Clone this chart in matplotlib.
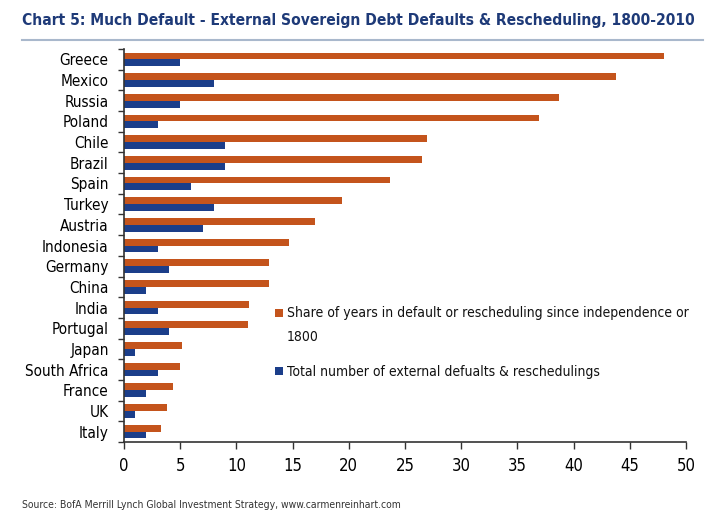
import matplotlib
matplotlib.use("Agg")
import matplotlib.pyplot as plt
import numpy as np
from matplotlib.patches import Rectangle

countries = ["Greece", "Mexico", "Russia", "Poland", "Chile", "Brazil", "Spain", "Turkey",
             "Austria", "Indonesia", "Germany", "China", "India", "Portugal", "Japan",
             "South Africa", "France", "UK", "Italy"]
share_years = [48.0, 43.8, 38.7, 36.9, 27.0, 26.5, 23.7, 19.4, 17.0, 14.7, 12.9, 12.9,
               11.1, 11.0, 5.2, 5.0, 4.35, 3.8, 3.3]
num_defaults = [5, 8, 5, 3, 9, 9, 6, 8, 7, 3, 4, 2, 3, 4, 1, 3, 2, 1, 2]
xticks = [0, 5, 10, 15, 20, 25, 30, 35, 40, 45, 50]
legend_labels = ["Share of years in default or rescheduling since independence or", "1800",
                 "Total number of external defualts & reschedulings"]

ORANGE = "#C4541C"
BLUE = "#1B3E8A"
NAVY = "#1E3A78"

plt.rcParams['font.family'] = ['DejaVu Sans']
plt.rcParams['font.stretch'] = 'condensed'

W, H = 717, 517
fig = plt.figure(figsize=(W/100, H/100), dpi=100)
ax = fig.add_axes([124/W, 1-442/H, (686-124)/W, 393/H])

y = np.arange(len(countries))
h = 0.33
ax.barh(y - h/2, share_years, height=h, color=ORANGE, zorder=2)
ax.barh(y + h/2, num_defaults, height=h, color=BLUE, zorder=2)

ax.set_ylim(len(countries) - 0.5, -0.5)
ax.set_xlim(0, 50)
ax.set_xticks(xticks)
ax.set_xticklabels([str(t) for t in xticks], fontsize=12)
ax.set_yticks(y)
ax.set_yticklabels(countries, fontsize=11)
ax.tick_params(axis='y', length=0, pad=11)
ax.set_yticks(np.arange(len(countries) + 1) - 0.5, minor=True)
ax.tick_params(axis='y', which='minor', length=4, width=1, color="#333333")
ax.tick_params(axis='x', length=5, width=1, color="#333333", pad=6)
for s in ['top', 'right']:
    ax.spines[s].set_visible(False)
for s in ['left', 'bottom']:
    ax.spines[s].set_color("#333333")
    ax.spines[s].set_linewidth(1.2)

# legend (drawn manually to mimic original layout)
def px(x, yy):
    return x / W, 1 - yy / H
for (sq_y, col) in [(309, ORANGE), (367, BLUE)]:
    x0, y0 = px(275, sq_y + 8)
    fig.add_artist(Rectangle((x0, y0), 8/W, 8/H, transform=fig.transFigure,
                             facecolor=col, edgecolor='none'))
for lab, ty in zip(legend_labels, [313, 337, 372]):
    tx, tyf = px(287, ty)
    fig.text(tx, tyf, lab, fontsize=10, color="#111111", va='center', ha='left')

tx, tyf = px(22, 20)
fig.text(tx, tyf, "Chart 5: Much Default - External Sovereign Debt Defaults & Rescheduling, 1800-2010",
         fontsize=11.2, fontweight='bold', color=NAVY, va='center', ha='left')
fig.add_artist(plt.Line2D([22/W, 703/W], [1-40/H, 1-40/H], color="#A9B8CC", lw=1.5))
tx, tyf = px(22, 505)
fig.text(tx, tyf, "Source: BofA Merrill Lynch Global Investment Strategy, www.carmenreinhart.com",
         fontsize=7.5, color="#333333", va='center', ha='left')

fig.savefig("out.png", dpi=100)
